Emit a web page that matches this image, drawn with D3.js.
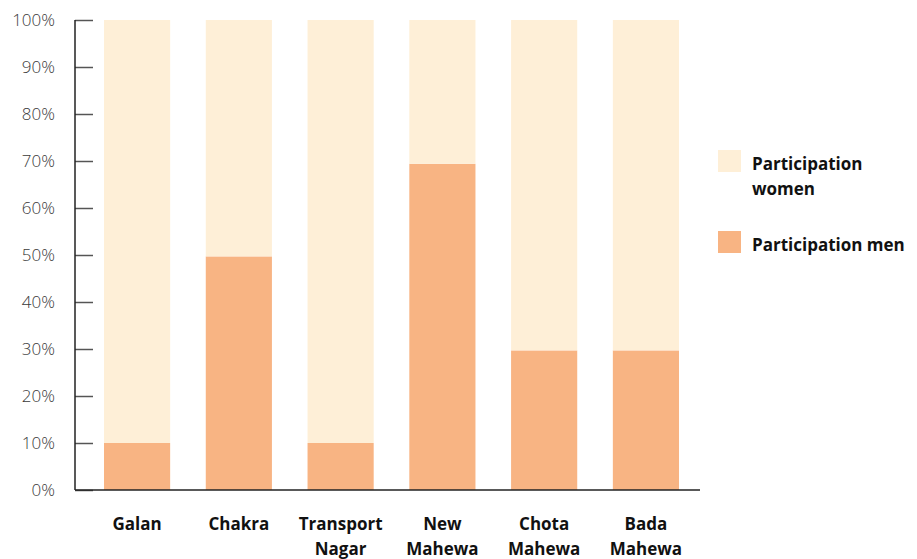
<!DOCTYPE html>
<html>
<head>
<meta charset="utf-8">
<script src="https://cdn.jsdelivr.net/npm/d3@7"></script>
<style>
  body { margin: 0; background: #fff; }
  svg text { font-family: "Open Sans", "Noto Sans", sans-serif; }
</style>
</head>
<body>
<svg id="chart" width="917" height="559"></svg>
<script>
// data
const places = ['Galan', 'Chakra', 'Transport Nagar', 'New Mahewa', 'Chota Mahewa', 'Bada Mahewa'];
const menShare = [10, 49.7, 10, 69.4, 29.7, 29.7];
const womenShare = [90, 50.3, 90, 30.6, 70.3, 70.3];
const yTicks = [0, 10, 20, 30, 40, 50, 60, 70, 80, 90, 100];
const seriesNames = ['Participation women', 'Participation men'];

const colors = { men: '#f8b483', women: '#feefd7' };

const svg = d3.select('#chart');
const x = d3.scaleBand().domain(places).range([104, 679]).paddingInner(0.35).paddingOuter(0);
const y = d3.scaleLinear().domain([0, 100]).range([490, 20]);

// stacked bars: men at the bottom, women on top
const rows = places.map((p, i) => ({ place: p, men: menShare[i], women: womenShare[i] }));
const stack = d3.stack().keys(['men', 'women'])(rows);

svg.append('g')
  .selectAll('g')
  .data(stack)
  .join('g')
  .attr('fill', d => colors[d.key])
  .selectAll('rect')
  .data(d => d)
  .join('rect')
  .attr('x', d => x(d.data.place))
  .attr('width', x.bandwidth())
  .attr('y', d => y(d[1]))
  .attr('height', d => y(d[0]) - y(d[1]));

// y axis, ticks point inward
const yAxis = svg.append('g')
  .attr('transform', 'translate(75,0)')
  .call(d3.axisRight(y).tickValues(yTicks).tickSize(18).tickFormat(d => d + '%'));
yAxis.select('.domain').remove();
yAxis.selectAll('.tick line').attr('stroke', '#555').attr('stroke-width', 1.5);
yAxis.selectAll('.tick text')
  .attr('x', -20)
  .attr('text-anchor', 'end')
  .attr('fill', '#3a3a3a')
  .attr('font-size', 17)
  .attr('font-weight', 300);
svg.append('line')
  .attr('x1', 75).attr('x2', 75)
  .attr('y1', y(100)).attr('y2', y(0))
  .attr('stroke', '#222').attr('stroke-width', 1.5);

// x axis baseline
svg.append('line')
  .attr('x1', 75).attr('x2', 700)
  .attr('y1', y(0)).attr('y2', y(0))
  .attr('stroke', '#222').attr('stroke-width', 1.5);

// category labels, wrapped to two lines
const labels = svg.append('g')
  .selectAll('text')
  .data(places)
  .join('text')
  .attr('x', d => x(d) + x.bandwidth() / 2)
  .attr('y', 530)
  .attr('text-anchor', 'middle')
  .attr('font-size', 17)
  .attr('font-weight', 700)
  .attr('fill', '#111');
labels.selectAll('tspan')
  .data(d => d.split(' '))
  .join('tspan')
  .attr('x', function () { return this.parentNode.getAttribute('x'); })
  .attr('dy', (d, i) => i === 0 ? 0 : 25)
  .text(d => d);

// legend
const legend = svg.append('g');
const legendItems = [
  { name: seriesNames[0], color: colors.women, y: 150, lines: ['Participation', 'women'] },
  { name: seriesNames[1], color: colors.men, y: 231, lines: ['Participation men'] }
];
legendItems.forEach(item => {
  legend.append('rect')
    .attr('x', 718).attr('y', item.y)
    .attr('width', 23).attr('height', 22)
    .attr('fill', item.color);
  const t = legend.append('text')
    .attr('x', 752).attr('y', item.y + 20)
    .attr('font-size', 17).attr('font-weight', 700).attr('fill', '#111');
  item.lines.forEach((line, i) => {
    t.append('tspan').attr('x', 752).attr('dy', i === 0 ? 0 : 25).text(line);
  });
});
</script>
</body>
</html>
